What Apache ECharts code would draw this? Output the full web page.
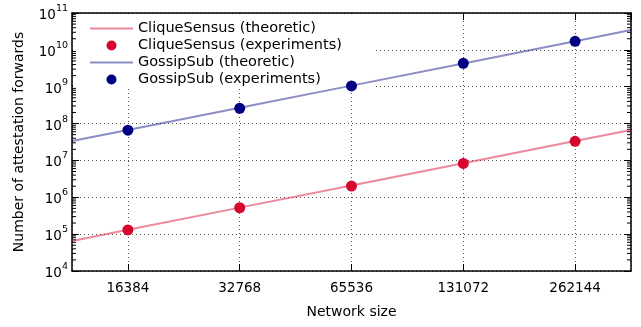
<!DOCTYPE html>
<html>
<head>
<meta charset="utf-8">
<script src="https://cdn.jsdelivr.net/npm/echarts@6/dist/echarts.min.js"></script>
<style>
  html, body { margin: 0; padding: 0; background: #fff; }
  #chart { width: 641px; height: 327px; }
</style>
</head>
<body>
<div id="chart"></div>
<script>
// network sizes used in the experiments
const sizes = [16384, 32768, 65536, 131072, 262144]
// the theoretic curves run over the whole x range
const theoSizes = [11585, 16384, 32768, 65536, 131072, 262144, 370728]

const cliqueTheo = [6.55e4, 1.31e5, 5.24e5, 2.1e6, 8.39e6, 3.36e7, 6.71e7]
const cliqueExp = [1.3e5, 5.2e5, 2.02e6, 8.3e6, 3.3e7]
const gossipTheo = [3.36e7, 6.71e7, 2.68e8, 1.07e9, 4.29e9, 1.72e10, 3.44e10]
const gossipExp = [6.6e7, 2.6e8, 1.05e9, 4.3e9, 1.7e10]

const xMin = 11585.24
const xMax = 370727.6
const yMin = 1e4
const yMax = 1e11

const font = 'DejaVu Sans'
const pair = (xs, ys) => xs.map((x, i) => [x, ys[i]])
const lineIcon = 'path://M0,0 L43,0 L43,2 L0,2 Z'

// log minor ticks (2..9 in each decade), drawn on left and right frame
const minorTicks = []
for (let k = 4; k < 11; k++) {
  for (let m = 2; m < 10; m++) minorTicks.push([sizes[0], m * Math.pow(10, k)])
}

const dom = echarts.init(document.getElementById('chart'))

const xBase = {
  type: 'log',
  logBase: 2,
  min: xMin,
  max: xMax,
  axisLine: { onZero: false, lineStyle: { color: '#000', width: 1.5 } },
  axisTick: { inside: true, length: 7, lineStyle: { color: '#000', width: 1 } },
  splitLine: { show: false },
  minorTick: { show: false }
}

const yBase = {
  type: 'log',
  logBase: 10,
  min: yMin,
  max: yMax,
  axisLine: { onZero: false, lineStyle: { color: '#000', width: 1.5 } },
  axisTick: { inside: true, length: 7, lineStyle: { color: '#000', width: 1 } },
  splitLine: { show: false }
}

const option = {
  animation: false,
  textStyle: { fontFamily: font },
  grid: { left: 72, right: 10, top: 13, bottom: 56 },
  legend: {
    orient: 'vertical',
    left: 73,
    top: 14,
    padding: [6, 34, 0, 17],
    backgroundColor: '#fff',
    itemWidth: 43,
    itemHeight: 10,
    itemGap: 0,
    itemTextGap: 11,
    z: 2,
    textStyle: { fontFamily: font, fontSize: 14.5, color: '#000', lineHeight: 17 },
    data: [
      { name: 'CliqueSensus (theoretic)', icon: lineIcon },
      { name: 'CliqueSensus (experiments)', icon: 'circle' },
      { name: 'GossipSub (theoretic)', icon: lineIcon },
      { name: 'GossipSub (experiments)', icon: 'circle' }
    ]
  },
  xAxis: [
    Object.assign({}, xBase, {
      position: 'bottom',
      name: 'Network size',
      nameLocation: 'middle',
      nameGap: 34,
      nameTextStyle: { fontFamily: font, fontSize: 14, color: '#000' },
      axisLabel: {
        margin: 10,
        fontFamily: font,
        fontSize: 13.5,
        color: '#000',
        showMinLabel: false,
        showMaxLabel: false,
        formatter: v => String(Math.round(v))
      },
      splitLine: { show: true, lineStyle: { color: '#555', type: [1, 3], width: 1 } }
    }),
    Object.assign({}, xBase, { position: 'top', axisLabel: { show: false } })
  ],
  yAxis: [
    Object.assign({}, yBase, {
      position: 'left',
      name: 'Number of attestation forwards',
      nameLocation: 'middle',
      nameGap: 46,
      nameTextStyle: { fontFamily: font, fontSize: 14, color: '#000' },
      axisLabel: {
        margin: 4,
        color: '#000',
        formatter: v => '{b|10}{s|' + Math.round(Math.log10(v)) + '}',
        rich: {
          b: { fontFamily: font, fontSize: 13.5, color: '#000', lineHeight: 19, verticalAlign: 'bottom' },
          s: { fontFamily: font, fontSize: 9.5, color: '#000', lineHeight: 19, verticalAlign: 'top' }
        }
      },
      splitLine: { show: true, lineStyle: { color: '#555', type: [1, 3], width: 1 } }
    }),
    Object.assign({}, yBase, { position: 'right', axisLabel: { show: false } })
  ],
  series: [
    {
      name: 'CliqueSensus (theoretic)',
      type: 'line',
      symbol: 'none',
      data: pair(theoSizes, cliqueTheo),
      lineStyle: { color: 'rgba(220,20,60,0.5)', width: 2 },
      itemStyle: { color: 'rgba(220,20,60,0.5)' },
      z: 5
    },
    {
      name: 'CliqueSensus (experiments)',
      type: 'scatter',
      symbol: 'circle',
      symbolSize: 11,
      data: pair(sizes, cliqueExp),
      itemStyle: { color: '#d7062f', opacity: 1 },
      z: 6
    },
    {
      name: 'GossipSub (theoretic)',
      type: 'line',
      symbol: 'none',
      data: pair(theoSizes, gossipTheo),
      lineStyle: { color: 'rgba(0,0,128,0.45)', width: 2 },
      itemStyle: { color: 'rgba(0,0,128,0.45)' },
      z: 5
    },
    {
      name: 'GossipSub (experiments)',
      type: 'scatter',
      symbol: 'circle',
      symbolSize: 11,
      data: pair(sizes, gossipExp),
      itemStyle: { color: '#000080', opacity: 1 },
      z: 6
    },
    {
      name: 'minor ticks',
      type: 'custom',
      silent: true,
      data: minorTicks,
      renderItem: (params, api) => {
        const y = api.coord([api.value(0), api.value(1)])[1]
        const cs = params.coordSys
        const st = { stroke: '#000', lineWidth: 1 }
        return {
          type: 'group',
          children: [
            { type: 'line', shape: { x1: cs.x, y1: y, x2: cs.x + 4, y2: y }, style: st },
            { type: 'line', shape: { x1: cs.x + cs.width - 4, y1: y, x2: cs.x + cs.width, y2: y }, style: st }
          ]
        }
      },
      z: 5
    }
  ]
}

dom.setOption(option)
window.addEventListener('resize', () => dom.resize())
</script>
</body>
</html>
